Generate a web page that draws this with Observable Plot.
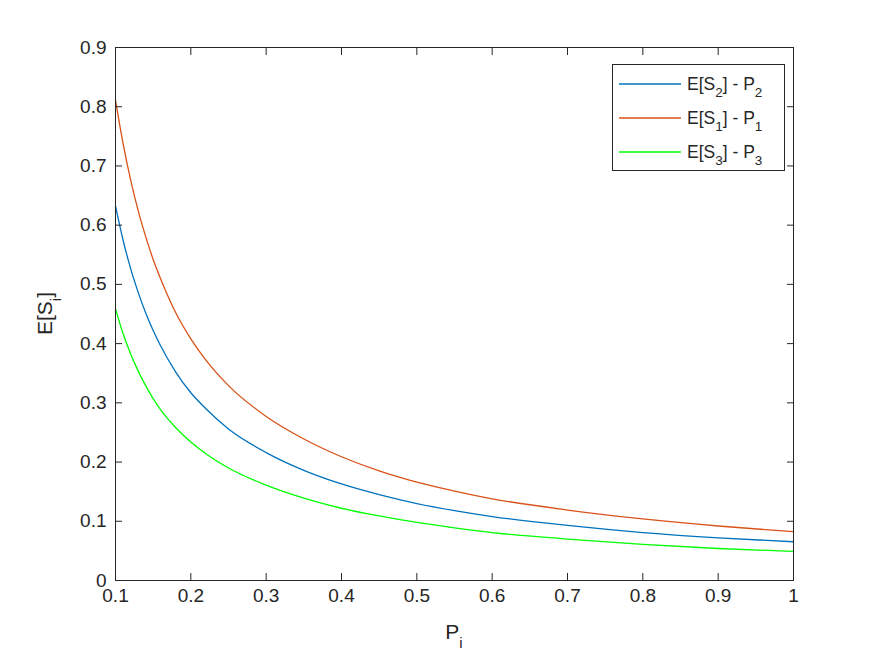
<!DOCTYPE html>
<html>
<head>
<meta charset="utf-8">
<script src="https://cdn.jsdelivr.net/npm/d3@7"></script>
<script src="https://cdn.jsdelivr.net/npm/@observablehq/plot@0.6"></script>
<style>
  html, body { margin: 0; padding: 0; background: #ffffff; }
  #chart { width: 875px; height: 657px; }
</style>
</head>
<body>
<div id="chart"></div>
<script>
// ---- data ----
const P  = [0.1, 0.11, 0.12, 0.13, 0.14, 0.15, 0.16, 0.18, 0.2, 0.22, 0.25, 0.3, 0.35, 0.4, 0.45, 0.5, 0.55, 0.6, 0.7, 0.8, 0.9, 1.0];
const S2 = [0.632, 0.575, 0.527, 0.487, 0.452, 0.422, 0.396, 0.352, 0.317, 0.290, 0.256, 0.216, 0.186, 0.163, 0.145, 0.130, 0.118, 0.108, 0.093, 0.081, 0.072, 0.0654];
const S1 = [0.811, 0.738, 0.677, 0.625, 0.581, 0.542, 0.509, 0.452, 0.408, 0.372, 0.329, 0.277, 0.239, 0.209, 0.185, 0.166, 0.151, 0.138, 0.119, 0.104, 0.092, 0.0824];
const S3 = [0.459, 0.417, 0.383, 0.354, 0.329, 0.307, 0.288, 0.258, 0.234, 0.214, 0.190, 0.161, 0.139, 0.122, 0.109, 0.098, 0.089, 0.081, 0.070, 0.061, 0.054, 0.0491];
const seriesKeys   = ["S2", "S1", "S3"];
const seriesColors = ["#0072BD", "#D95319", "#00FF00"];
const legendMain   = [["E[S", "2", "] - P", "2"], ["E[S", "1", "] - P", "1"], ["E[S", "3", "] - P", "3"]];
const xTicks = [0.1, 0.2, 0.3, 0.4, 0.5, 0.6, 0.7, 0.8, 0.9, 1.0];
const xTickLabels = ["0.1", "0.2", "0.3", "0.4", "0.5", "0.6", "0.7", "0.8", "0.9", "1"];
const yTicks = [0, 0.1, 0.2, 0.3, 0.4, 0.5, 0.6, 0.7, 0.8, 0.9];
const yTickLabels = ["0", "0.1", "0.2", "0.3", "0.4", "0.5", "0.6", "0.7", "0.8", "0.9"];

const seriesValues = {S1, S2, S3};
const rows = [];
seriesKeys.forEach((k, si) => {
  P.forEach((p, i) => rows.push({P: p, v: seriesValues[k][i], s: k, c: seriesColors[si]}));
});

const AX = "#262626";
const W = 875, H = 657;
const mL = 115, mR = 82, mT = 47, mB = 77;

const chart = Plot.plot({
  width: W, height: H,
  marginLeft: mL, marginRight: mR, marginTop: mT, marginBottom: mB,
  style: {fontFamily: "'Liberation Sans', Arial, Helvetica, sans-serif", fontSize: "19px", color: AX, background: "#ffffff", overflow: "visible"},
  x: {domain: [0.1, 1], label: null},
  y: {domain: [0, 0.9], label: null},
  marks: [
    Plot.line(rows, {x: "P", y: "v", z: "s", stroke: "c", strokeWidth: 1.3, curve: "monotone-x"}),
    Plot.frame({stroke: AX, strokeWidth: 1}),
    Plot.axisX({anchor: "bottom", ticks: xTicks, tickSize: 0, tickPadding: 8, tickFormat: (d, i) => xTickLabels[i], label: null, fill: AX}),
    Plot.axisX({anchor: "bottom", ticks: xTicks, tickSize: -7, tickFormat: () => "", label: null, stroke: AX}),
    Plot.axisX({anchor: "top", ticks: xTicks, tickSize: -7, tickFormat: () => "", label: null, stroke: AX}),
    Plot.axisY({anchor: "left", ticks: yTicks, tickSize: 0, tickPadding: 9, tickFormat: (d, i) => yTickLabels[i], label: null, fill: AX}),
    Plot.axisY({anchor: "left", ticks: yTicks, tickSize: -7, tickFormat: () => "", label: null, stroke: AX}),
    Plot.axisY({anchor: "right", ticks: yTicks, tickSize: -7, tickFormat: () => "", label: null, stroke: AX})
  ]
});
document.getElementById("chart").appendChild(chart);

// ---- axis titles and legend (MATLAB style, with subscripts) ----
const svg = d3.select(chart);
const font = "'Liberation Sans', Arial, Helvetica, sans-serif";

function subText(g, parts, size, subSize, subShift) {
  parts.forEach((p, i) => {
    const isSub = i % 2 === 1;
    g.append("tspan")
      .attr("font-size", isSub ? subSize : size)
      .attr("dy", isSub ? subShift : (i === 0 ? 0 : -subShift))
      .text(p);
  });
}

// x title: P_i
const xt = svg.append("text")
  .attr("x", (mL + (W - mR)) / 2).attr("y", 639)
  .attr("text-anchor", "middle").attr("font-family", font).attr("fill", AX);
subText(xt, ["P", "i"], 21, 15, 9);

// y title: E[S_i]
const yt = svg.append("text")
  .attr("transform", `translate(52,${(mT + (H - mB)) / 2}) rotate(-90)`)
  .attr("text-anchor", "middle").attr("font-family", font).attr("fill", AX);
subText(yt, ["E[S", "i", "]"], 21, 15, 9);

// legend
const lg = svg.append("g");
lg.append("rect").attr("x", 612.5).attr("y", 64.5).attr("width", 172).attr("height", 106)
  .attr("fill", "#ffffff").attr("stroke", AX).attr("stroke-width", 1);
const rowY = [84, 118, 152];
legendMain.forEach((parts, i) => {
  lg.append("line").attr("x1", 619).attr("x2", 681).attr("y1", rowY[i]).attr("y2", rowY[i])
    .attr("stroke", seriesColors[i]).attr("stroke-width", 1.3);
  const t = lg.append("text").attr("x", 687).attr("y", rowY[i] + 6)
    .attr("text-anchor", "start")
    .attr("font-family", font).attr("fill", AX);
  subText(t, parts, 17.5, 13.5, 7);
});
</script>
</body>
</html>
